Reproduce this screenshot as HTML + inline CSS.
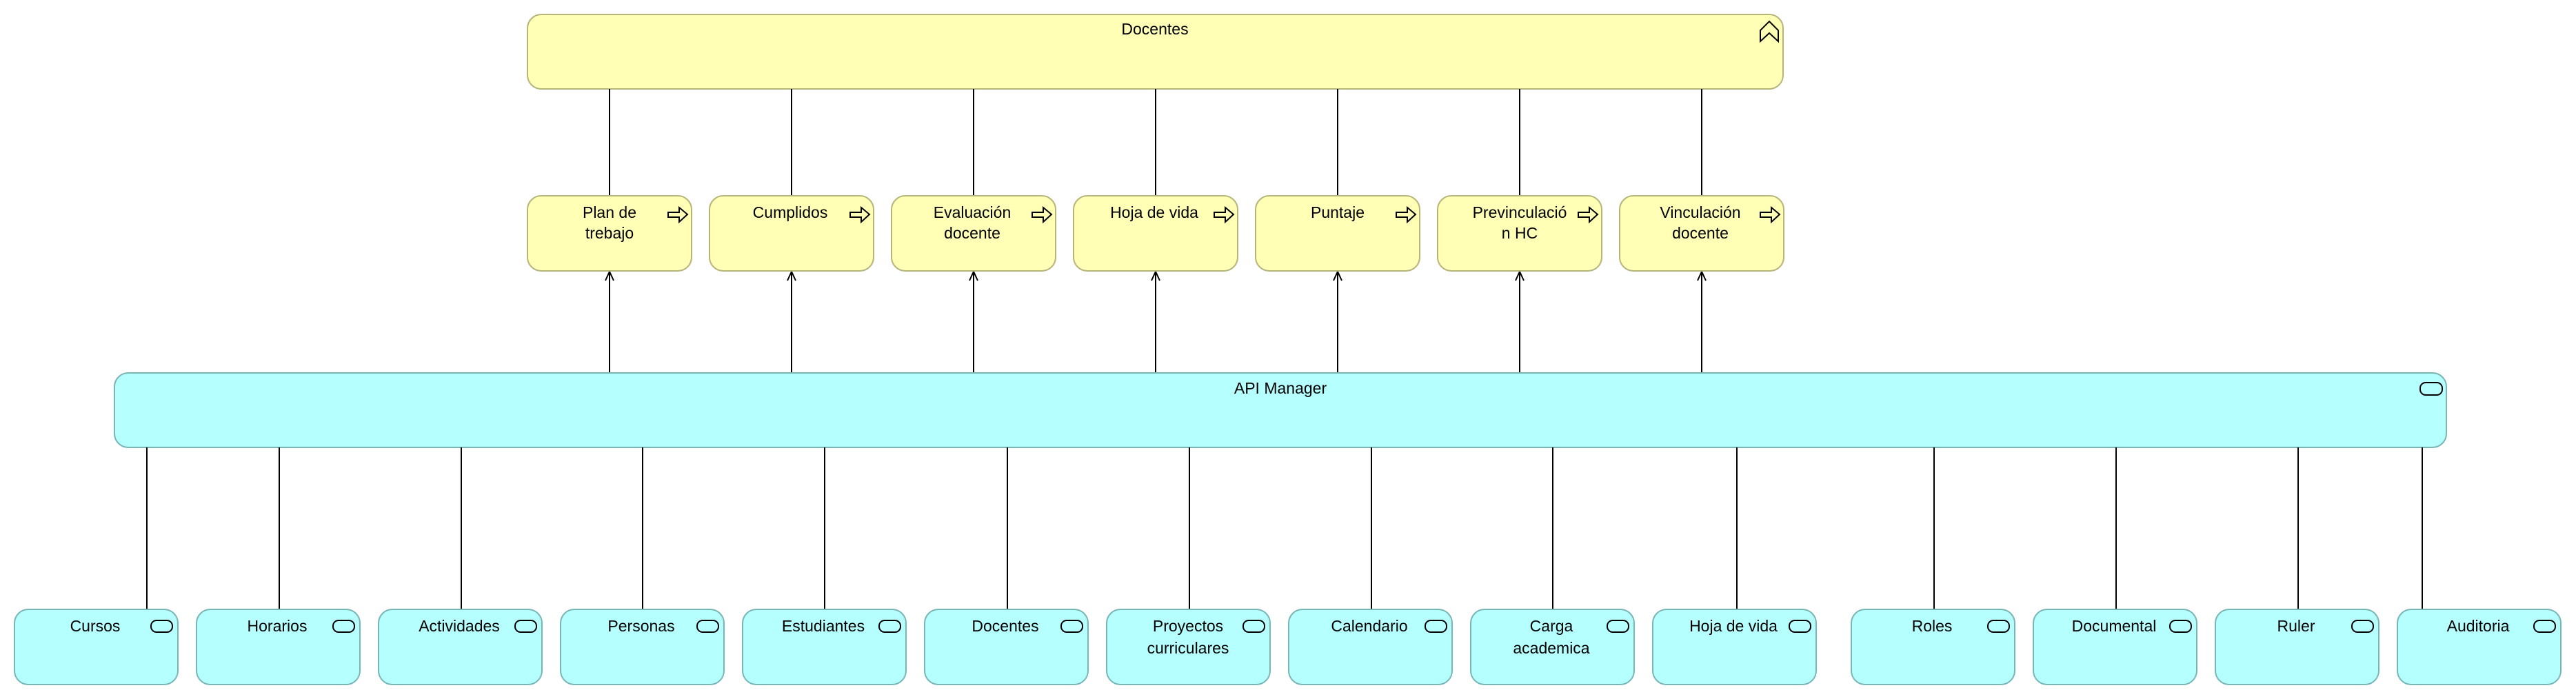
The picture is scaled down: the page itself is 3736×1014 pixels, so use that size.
<!DOCTYPE html>
<html><head><meta charset="utf-8"><style>
html,body{margin:0;padding:0;background:#fff;}
svg{display:block;}
text{font-family:"Liberation Sans","DejaVu Sans",sans-serif;font-size:23px;fill:#000;text-anchor:middle;}
.y{fill:#ffffb5;stroke:#b5b57a;stroke-width:2;}
.c{fill:#b5ffff;stroke:#7ab5b5;stroke-width:2;}
.l{stroke:#000;stroke-width:2;fill:none;}
.i{fill:none;stroke:#000;stroke-width:2;}
</style></head><body>
<svg width="3736" height="1014" viewBox="0 0 3736 1014" xmlns="http://www.w3.org/2000/svg">
<!-- Docentes -->
<rect class="y" x="765" y="21" width="1821" height="108" rx="20"/>
<text x="1675" y="50">Docentes</text>
<path class="i" d="M2553,60 L2553,44 L2566,31 L2579,44 L2579,60 L2566,48 Z"/>

<!-- connectors top -->
<g class="l">
<line x1="884" y1="129" x2="884" y2="284"/><line x1="1148" y1="129" x2="1148" y2="284"/>
<line x1="1412" y1="129" x2="1412" y2="284"/><line x1="1676" y1="129" x2="1676" y2="284"/>
<line x1="1940" y1="129" x2="1940" y2="284"/><line x1="2204" y1="129" x2="2204" y2="284"/>
<line x1="2468" y1="129" x2="2468" y2="284"/>
</g>
<g class="l">
<path d="M884,541 V394 M878,407 L884,394 L890,407"/>
<path d="M1148,541 V394 M1142,407 L1148,394 L1154,407"/>
<path d="M1412,541 V394 M1406,407 L1412,394 L1418,407"/>
<path d="M1676,541 V394 M1670,407 L1676,394 L1682,407"/>
<path d="M1940,541 V394 M1934,407 L1940,394 L1946,407"/>
<path d="M2204,541 V394 M2198,407 L2204,394 L2210,407"/>
<path d="M2468,541 V394 M2462,407 L2468,394 L2474,407"/>
</g>

<!-- yellow function boxes -->
<g>
<rect class="y" x="765" y="284" width="238" height="109" rx="20"/>
<rect class="y" x="1029" y="284" width="238" height="109" rx="20"/>
<rect class="y" x="1293" y="284" width="238" height="109" rx="20"/>
<rect class="y" x="1557" y="284" width="238" height="109" rx="20"/>
<rect class="y" x="1821" y="284" width="238" height="109" rx="20"/>
<rect class="y" x="2085" y="284" width="238" height="109" rx="20"/>
<rect class="y" x="2349" y="284" width="238" height="109" rx="20"/>
</g>
<g class="i">
<polygon points="969,308 985,308 985,301 997,311 985,322 985,315 969,315"/>
<polygon points="1233,308 1249,308 1249,301 1261,311 1249,322 1249,315 1233,315"/>
<polygon points="1497,308 1513,308 1513,301 1525,311 1513,322 1513,315 1497,315"/>
<polygon points="1761,308 1777,308 1777,301 1789,311 1777,322 1777,315 1761,315"/>
<polygon points="2025,308 2041,308 2041,301 2053,311 2041,322 2041,315 2025,315"/>
<polygon points="2289,308 2305,308 2305,301 2317,311 2305,322 2305,315 2289,315"/>
<polygon points="2553,308 2569,308 2569,301 2581,311 2569,322 2569,315 2553,315"/>
</g>
<text x="884" y="316">Plan de</text><text x="884" y="346">trebajo</text>
<text x="1146" y="316">Cumplidos</text>
<text x="1410" y="316">Evaluación</text><text x="1410" y="346">docente</text>
<text x="1674" y="316">Hoja de vida</text>
<text x="1940" y="316">Puntaje</text>
<text x="2204" y="316">Previnculació</text><text x="2204" y="346">n HC</text>
<text x="2466" y="316">Vinculación</text><text x="2466" y="346">docente</text>

<!-- API Manager -->
<rect class="c" x="166" y="541" width="3382" height="108" rx="20"/>
<text x="1857" y="571">API Manager</text>
<rect class="i" x="3510" y="555" width="32" height="18" rx="8"/>

<!-- bottom connectors -->
<g class="l">
<line x1="213" y1="649" x2="213" y2="884"/><line x1="405" y1="649" x2="405" y2="884"/>
<line x1="669" y1="649" x2="669" y2="884"/><line x1="932" y1="649" x2="932" y2="884"/>
<line x1="1196" y1="649" x2="1196" y2="884"/><line x1="1461" y1="649" x2="1461" y2="884"/>
<line x1="1725" y1="649" x2="1725" y2="884"/><line x1="1989" y1="649" x2="1989" y2="884"/>
<line x1="2252" y1="649" x2="2252" y2="884"/><line x1="2519" y1="649" x2="2519" y2="884"/>
<line x1="2805" y1="649" x2="2805" y2="884"/><line x1="3069" y1="649" x2="3069" y2="884"/>
<line x1="3333" y1="649" x2="3333" y2="884"/><line x1="3513" y1="649" x2="3513" y2="884"/>
</g>

<!-- bottom boxes -->
<g>
<rect class="c" x="21" y="884" width="237" height="109" rx="20"/>
<rect class="c" x="285" y="884" width="237" height="109" rx="20"/>
<rect class="c" x="549" y="884" width="237" height="109" rx="20"/>
<rect class="c" x="813" y="884" width="237" height="109" rx="20"/>
<rect class="c" x="1077" y="884" width="237" height="109" rx="20"/>
<rect class="c" x="1341" y="884" width="237" height="109" rx="20"/>
<rect class="c" x="1605" y="884" width="237" height="109" rx="20"/>
<rect class="c" x="1869" y="884" width="237" height="109" rx="20"/>
<rect class="c" x="2133" y="884" width="237" height="109" rx="20"/>
<rect class="c" x="2397" y="884" width="237" height="109" rx="20"/>
<rect class="c" x="2685" y="884" width="237" height="109" rx="20"/>
<rect class="c" x="2949" y="884" width="237" height="109" rx="20"/>
<rect class="c" x="3213" y="884" width="237" height="109" rx="20"/>
<rect class="c" x="3477" y="884" width="237" height="109" rx="20"/>
</g>
<g class="i">
<rect x="219" y="900" width="31" height="17" rx="8"/>
<rect x="483" y="900" width="31" height="17" rx="8"/>
<rect x="747" y="900" width="31" height="17" rx="8"/>
<rect x="1011" y="900" width="31" height="17" rx="8"/>
<rect x="1275" y="900" width="31" height="17" rx="8"/>
<rect x="1539" y="900" width="31" height="17" rx="8"/>
<rect x="1803" y="900" width="31" height="17" rx="8"/>
<rect x="2067" y="900" width="31" height="17" rx="8"/>
<rect x="2331" y="900" width="31" height="17" rx="8"/>
<rect x="2595" y="900" width="31" height="17" rx="8"/>
<rect x="2883" y="900" width="31" height="17" rx="8"/>
<rect x="3147" y="900" width="31" height="17" rx="8"/>
<rect x="3411" y="900" width="31" height="17" rx="8"/>
<rect x="3675" y="900" width="31" height="17" rx="8"/>
</g>
<text x="138" y="916">Cursos</text>
<text x="402" y="916">Horarios</text>
<text x="666" y="916">Actividades</text>
<text x="930" y="916">Personas</text>
<text x="1194" y="916">Estudiantes</text>
<text x="1458" y="916">Docentes</text>
<text x="1723" y="916">Proyectos</text><text x="1723" y="948">curriculares</text>
<text x="1986" y="916">Calendario</text>
<text x="2250" y="916">Carga</text><text x="2250" y="948">academica</text>
<text x="2514" y="916">Hoja de vida</text>
<text x="2802" y="916">Roles</text>
<text x="3066" y="916">Documental</text>
<text x="3330" y="916">Ruler</text>
<text x="3594" y="916">Auditoria</text>
</svg>
</body></html>
